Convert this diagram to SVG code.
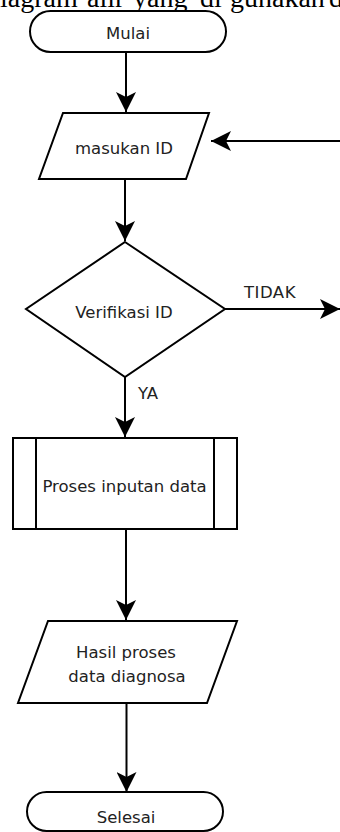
<svg xmlns="http://www.w3.org/2000/svg" width="340" height="832" viewBox="0 0 340 832">
<style>
.shape{fill:#fff;stroke:#000;stroke-width:2}
.lbl{font-family:"DejaVu Sans",Verdana,sans-serif;font-size:16.5px;fill:#222;text-anchor:middle}
.edge{fill:none;stroke:#000;stroke-width:2}
.elbl{font-family:"DejaVu Sans",Verdana,sans-serif;font-size:16.5px;fill:#222}
.cap{font-family:"Liberation Serif","Times New Roman",serif;font-size:28px;fill:#000}
</style>
<defs>
<marker id="arr" markerUnits="userSpaceOnUse" markerWidth="20" markerHeight="20" refX="20" refY="10" orient="auto">
<path d="M20,10 L0,0 L5,10 L0,20 Z" fill="#000"/>
</marker>
</defs>
<text class="cap" y="7"><tspan x="0">iagram</tspan><tspan x="87">alir</tspan><tspan x="133">yang</tspan><tspan x="200">di</tspan><tspan x="230">gunakan</tspan><tspan x="329">d</tspan></text>
<g id="edges">
<line class="edge" x1="126" y1="52" x2="126" y2="112" marker-end="url(#arr)"/>
<line class="edge" x1="125" y1="179" x2="125" y2="241" marker-end="url(#arr)"/>
<line class="edge" x1="340" y1="141" x2="211" y2="141" marker-end="url(#arr)"/>
<line class="edge" x1="225" y1="309" x2="340" y2="309" marker-end="url(#arr)"/>
<text class="elbl" x="244" y="298" letter-spacing="0.5">TIDAK</text>
<line class="edge" x1="125" y1="377" x2="125" y2="437" marker-end="url(#arr)"/>
<text class="elbl" x="138" y="399">YA</text>
<line class="edge" x1="126" y1="529" x2="126" y2="620" marker-end="url(#arr)"/>
<line class="edge" x1="126.5" y1="703" x2="126.5" y2="792" marker-end="url(#arr)"/>
</g>
<g id="mulai">
<rect class="shape" x="30" y="11" width="196" height="41" rx="20.5"/>
<text class="lbl" x="128" y="39">Mulai</text>
</g>
<g id="masukan">
<polygon class="shape" points="63,113 209,113 186,179 39,179"/>
<text class="lbl" x="124" y="154">masukan ID</text>
</g>
<g id="verifikasi">
<polygon class="shape" points="125,242 225,309 125,377 26,309"/>
<text class="lbl" x="124" y="318">Verifikasi ID</text>
</g>
<g id="proses">
<rect class="shape" x="13" y="438" width="224" height="91"/>
<line class="edge" x1="36" y1="438" x2="36" y2="529"/>
<line class="edge" x1="214" y1="438" x2="214" y2="529"/>
<text class="lbl" x="124.5" y="492">Proses inputan data</text>
</g>
<g id="hasil">
<polygon class="shape" points="48,621 237,621 207,703 18,703"/>
<text class="lbl" x="126" y="658">Hasil proses</text>
<text class="lbl" x="127" y="682">data diagnosa</text>
</g>
<g id="selesai">
<rect class="shape" x="27" y="792" width="196" height="39" rx="19.5"/>
<text class="lbl" x="126" y="823">Selesai</text>
</g>
</svg>
